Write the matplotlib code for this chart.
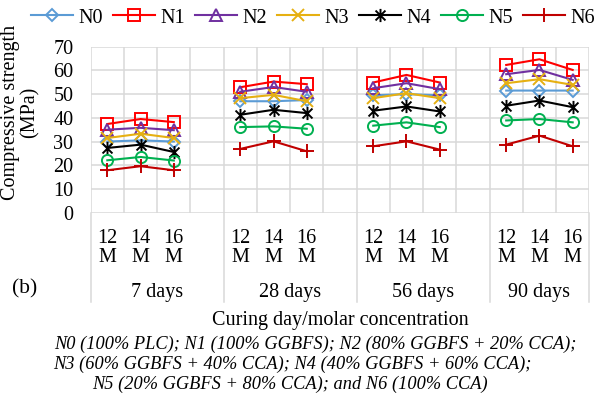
import numpy as np
import matplotlib
matplotlib.use("Agg")
import matplotlib.pyplot as plt
from matplotlib.path import Path

plt.rcParams['font.family'] = ['Liberation Serif', 'DejaVu Serif']

days = ["7 days", "28 days", "56 days", "90 days"]
molar = ["12\nM", "14\nM", "16\nM"]
names = ["N0", "N1", "N2", "N3", "N4", "N5", "N6"]

# values per day group: 12 M, 14 M, 16 M
n0 = [[30, 30.5, 30], [47, 47, 47.5], [49.5, 50, 49.5], [51.5, 51.5, 51.5]]
n1 = [[37.4, 39.5, 38.2], [52.9, 55.3, 54.2], [54.9, 58.1, 54.9], [62.3, 64.7, 60.2]]
n2 = [[35, 35.8, 34.8], [51, 53, 51], [52.5, 54.6, 52.1], [58.4, 60.2, 56]]
n3 = [[31.5, 33.3, 31.5], [48.3, 49.7, 47], [48.3, 50.4, 48.3], [54.6, 56.3, 53.9]]
n4 = [[27.3, 28.7, 25.6], [41.3, 43.4, 42], [43, 44.8, 42.7], [45.1, 47.3, 44.5]]
n5 = [[22.1, 23.5, 22], [36.1, 36.4, 35.4], [36.7, 38.1, 36.1], [38.9, 39.5, 38.1]]
n6 = [[17.9, 19.6, 17.9], [26.9, 30.1, 25.9], [28, 30.1, 26.6], [28.7, 32.5, 28]]

caption = ["N0 (100% PLC); N1 (100% GGBFS); N2 (80% GGBFS + 20% CCA);",
           "N3 (60% GGBFS + 40% CCA); N4 (40% GGBFS + 60% CCA);",
           "N5 (20% GGBFS + 80% CCA); and N6 (100% CCA)"]

star = Path([(0, -1), (0, 1), (-0.75, -0.75), (0.75, 0.75), (-0.75, 0.75), (0.75, -0.75)],
            [Path.MOVETO, Path.LINETO, Path.MOVETO, Path.LINETO, Path.MOVETO, Path.LINETO])

colors = ["#5B9BD5", "#FF0000", "#7030A0", "#E6B012", "#000000", "#00B050", "#C00000"]
markers = ["D", "s", "^", "x", star, "o", "+"]
msizes = [6.5, 8.5, 8.5, 9, 9.5, 8, 9.5]

# 15 category slots: 3 molar values + a blank slot per group, no blank after last
ncat = 15
fs = 14.5

fig = plt.figure(figsize=(5.98, 3.97), dpi=100)
ax = fig.add_axes([90.7 / 598, 1 - 212.7 / 397, (589.3 - 90.7) / 598, (212.7 - 46.7) / 397])

for name, vals, c, m, ms in zip(names, [n0, n1, n2, n3, n4, n5, n6], colors, markers, msizes):
    y = np.full(ncat, np.nan)
    for g, grp in enumerate(vals):
        for k, v in enumerate(grp):
            y[g * 4 + k] = v
    ax.plot(np.arange(ncat), y, color=c, lw=1.5, marker=m, ms=ms, mfc='none',
            mec=c, mew=1.4, label=name)

ax.set_xlim(-0.5, ncat - 0.5)
ax.set_ylim(0, 70)
ax.set_yticks(np.arange(0, 71, 10))
ax.tick_params(axis='y', length=0, pad=12.5, labelsize=fs)

labels = []
for i in range(ncat):
    labels.append(molar[i % 4] if i % 4 < 3 else "")
ax.set_xticks(np.arange(ncat))
ax.set_xticklabels(labels, linespacing=1.0)
ax.set_xticks(np.arange(ncat + 1) - 0.5, minor=True)
ax.tick_params(axis='x', which='both', length=0, pad=12, labelsize=fs)

ax.grid(True, axis='y', color='#D9D9D9', lw=1.1)
ax.grid(True, axis='x', which='minor', color='#D9D9D9', lw=1.1)
ax.grid(False, axis='x', which='major')
for s in ax.spines.values():
    s.set_visible(False)
ax.set_axisbelow(True)

# group separators below the axis
trans = ax.get_xaxis_transform()
depth = -(301.7 - 212.7) / 166.0
for b in [-0.5, 3.5, 7.5, 11.5, 14.5]:
    ax.plot([b, b], [0, depth], color='#D9D9D9', lw=1.1, transform=trans, clip_on=False)
group_centers = [1.5, 5.5, 9.5, 13.0]
for gx, d in zip(group_centers, days):
    ax.text(gx, -(293 - 212.7) / 166.0, d, transform=trans, ha='center', va='center', fontsize=fs)

fig.text(25 / 598, 1 - 289 / 397, "(b)", ha='center', va='center', fontsize=fs + 1)
fig.text(340 / 598, 1 - 320 / 397, "Curing day/molar concentration", ha='center', va='center', fontsize=fs)
fig.text(20 / 598, 1 - 112 / 397, "Compressive strength\n(MPa)", rotation=90, ha='center', va='center',
         fontsize=fs, linespacing=1.0)

for txt, cx, cy in zip(caption, [315, 292, 290], [344, 364, 384]):
    fig.text(cx / 598, 1 - cy / 397, txt, ha='center', va='center', fontsize=13.2, style='italic')

fig.legend(loc='center', bbox_to_anchor=(313 / 598, 1 - 18 / 397), ncol=7, frameon=False,
           fontsize=fs, handlelength=2.1, handletextpad=0.25, columnspacing=0.5, borderpad=0)

fig.savefig("out.png", dpi=100)
